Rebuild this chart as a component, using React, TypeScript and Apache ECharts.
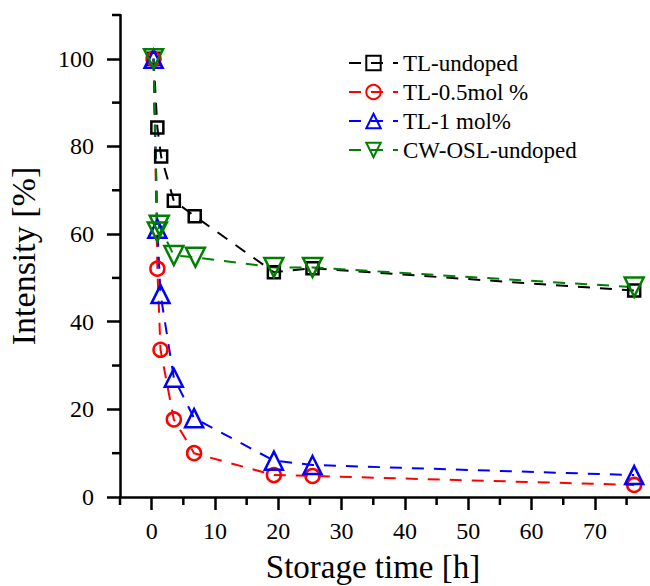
import React, { useEffect, useRef } from "react";
import * as echarts from "echarts";

const seriesNames = ["TL-undoped", "TL-0.5mol %", "TL-1 mol%", "CW-OSL-undoped"];
const xUndoped = [0.3, 0.9, 1.5, 3.5, 6.8, 19.3, 25.4, 76.2];
const yUndoped = [100, 84.3, 77.7, 67.6, 64.1, 51.3, 52.2, 47.1];
const xHalf = [0.3, 0.9, 1.4, 3.5, 6.7, 19.3, 25.4, 76.2];
const yHalf = [100, 52.1, 33.6, 17.7, 10.0, 5.0, 4.8, 2.75];
const xOne = [0.3, 0.9, 1.4, 3.5, 6.7, 19.3, 25.4, 76.2];
const yOne = [100, 61.2, 46.3, 27.2, 18.0, 8.3, 7.3, 5.0];
const xOsl = [0.3, 0.9, 1.2, 3.5, 6.9, 19.3, 25.4, 76.2];
const yOsl = [100, 60.5, 62.0, 55.1, 54.7, 52.4, 52.4, 47.9];

const xMajor = [0, 10, 20, 30, 40, 50, 60, 70];
const xMinor = [-5, 5, 15, 25, 35, 45, 55, 65, 75];
const yMajor = [0, 20, 40, 60, 80, 100];
const yMinor = [10, 30, 50, 70, 90, 110];

const X_MIN = -5;
const X_MAX = 78.7;
const Y_MIN = 0;
const Y_MAX = 110;

const FONT = "Liberation Serif";

const colors = ["#000000", "#ff0000", "#0000ff", "#008000"];
const symbols = ["rect", "circle", "triangle", "triangle"];
const symbolSizes = [12, 14, 18, 19];
const rotates = [0, 0, 0, 180];

const zip = (xs: number[], ys: number[]) => xs.map((x, i) => [x, ys[i]]);

export default function App() {
  const ref = useRef<HTMLDivElement>(null);
  useEffect(() => {
    if (!ref.current) return;
    const chart = echarts.init(ref.current, null, { renderer: "svg" });
    const datas = [
      zip(xUndoped, yUndoped),
      zip(xHalf, yHalf),
      zip(xOne, yOne),
      zip(xOsl, yOsl),
    ];
    const mainSeries = seriesNames.map((name, i) => ({
      name,
      type: "line",
      xAxisIndex: 0,
      yAxisIndex: 0,
      data: datas[i],
      symbol: symbols[i],
      symbolSize: symbolSizes[i],
      symbolRotate: rotates[i],
      showAllSymbol: true,
      clip: false,
      lineStyle: { color: colors[i], width: 2, type: [12, 10] },
      itemStyle: { color: "rgba(255,255,255,0)", borderColor: colors[i], borderWidth: 2.5 },
      emphasis: { disabled: true },
    }));
    const tickLine = { color: "#000", width: 2.5 };
    const minorX = {
      name: "xMinorTicks",
      type: "custom",
      silent: true,
      clip: false,
      z: 5,
      data: xMinor.map((v) => [v, Y_MIN]),
      renderItem: (_p: any, api: any) => {
        const p = api.coord([api.value(0), Y_MIN]);
        return {
          type: "line",
          shape: { x1: p[0], y1: p[1], x2: p[0], y2: p[1] + 8 },
          style: { stroke: "#000", lineWidth: 2.5 },
        };
      },
    };
    const minorY = {
      name: "yMinorTicks",
      type: "custom",
      silent: true,
      clip: false,
      z: 5,
      data: yMinor.map((v) => [X_MIN, v]),
      renderItem: (_p: any, api: any) => {
        const p = api.coord([X_MIN, api.value(1)]);
        return {
          type: "line",
          shape: { x1: p[0], y1: p[1], x2: p[0] - 8, y2: p[1] },
          style: { stroke: "#000", lineWidth: 2.5 },
        };
      },
    };
    chart.setOption({
      animation: false,
      backgroundColor: "#ffffff",
      textStyle: { fontFamily: FONT, color: "#000" },
      grid: { left: 120, right: 0, top: 15, bottom: 89, containLabel: false, outerBoundsMode: "none" },
      legend: {
        data: seriesNames,
        orient: "vertical",
        left: 343,
        top: 46,
        itemWidth: 49,
        itemHeight: 18,
        itemGap: 5,
        textStyle: { fontFamily: FONT, fontSize: 23, color: "#000", lineHeight: 24 },
      },
      xAxis: {
        type: "value",
        min: X_MIN,
        max: X_MAX,
        position: "bottom",
        splitLine: { show: false },
        axisLine: { show: true, onZero: false, lineStyle: { color: "#000", width: 2.5 } },
        axisTick: { show: true, length: 13, customValues: xMajor, lineStyle: tickLine },
        axisLabel: {
          customValues: xMajor,
          fontFamily: FONT,
          fontSize: 24,
          color: "#000",
          margin: 22,
        },
        name: "Storage time [h]",
        nameLocation: "middle",
        nameGap: 53,
        nameTextStyle: { fontFamily: FONT, fontSize: 33, color: "#000", padding: [0, 24, 0, 0] },
      },
      yAxis: {
        type: "value",
        min: Y_MIN,
        max: Y_MAX,
        position: "left",
        splitLine: { show: false },
        axisLine: { show: true, onZero: false, lineStyle: { color: "#000", width: 2.5 } },
        axisTick: { show: true, length: 13, customValues: yMajor, lineStyle: tickLine },
        axisLabel: {
          customValues: yMajor,
          fontFamily: FONT,
          fontSize: 24,
          color: "#000",
          margin: 26,
        },
        name: "Intensity [%]",
        nameLocation: "middle",
        nameGap: 80,
        nameTextStyle: { fontFamily: FONT, fontSize: 34, color: "#000" },
      },
      series: [...mainSeries, minorX, minorY],
    });
    return () => chart.dispose();
  }, []);
  return <div ref={ref} style={{ width: 650, height: 586, position: "absolute", left: 0, top: 0 }} />;
}
